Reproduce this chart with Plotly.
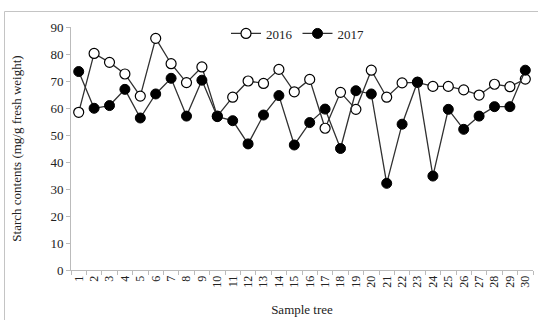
import plotly.graph_objects as go

trees = [str(i) for i in range(1, 31)]
starch_2016 = [58.4, 80.2, 76.9, 72.6, 64.4, 85.8, 76.4, 69.4, 75.2, 57.0,
               64.0, 70.0, 69.1, 74.3, 66.0, 70.6, 52.5, 65.8, 59.5, 74.0,
               64.0, 69.3, 69.5, 68.0, 68.0, 66.7, 64.8, 68.8, 67.9, 70.7]
starch_2017 = [73.5, 59.9, 60.9, 66.9, 56.3, 65.2, 71.0, 57.0, 70.3, 56.8,
               55.3, 46.7, 57.4, 64.6, 46.3, 54.6, 59.6, 45.0, 66.4, 65.2,
               32.1, 54.0, 69.6, 34.8, 59.5, 52.1, 57.0, 60.5, 60.5, 74.0]

FONT = "Liberation Serif"
fig = go.Figure()
fig.add_trace(go.Scatter(
    x=trees, y=starch_2016, name="2016", mode="lines+markers",
    line=dict(color="#303030", width=1.3),
    marker=dict(size=10, color="white", line=dict(color="black", width=1.2)),
))
fig.add_trace(go.Scatter(
    x=trees, y=starch_2017, name="2017", mode="lines+markers",
    line=dict(color="#303030", width=1.3),
    marker=dict(size=10, color="black", line=dict(color="black", width=1)),
))

L, R, T, B = 71, 5, 27, 50
W, H = 538, 320
pw = W - L - R
ph = H - T - B

fig.update_layout(
    width=W, height=H, autosize=False,
    margin=dict(l=L, r=R, t=T, b=B, autoexpand=False),
    paper_bgcolor="white", plot_bgcolor="white",
    font=dict(family=FONT, size=12, color="#222"),
    showlegend=True,
    legend=dict(orientation="h", x=(226 - L) / pw, y=1.035, xanchor="left", yanchor="top",
                bgcolor="rgba(0,0,0,0)", font=dict(family=FONT, size=13, color="#222"),
                itemwidth=30, tracegroupgap=0),
    xaxis=dict(type="category", range=[-0.5, len(trees) - 0.5], tickson="boundaries",
               ticks="outside", ticklen=4,
               tickmode="array", tickvals=trees, ticktext=trees,
               tickcolor="#bbb", showline=True, linecolor="#bbb", linewidth=1,
               showgrid=False, tickangle=-90, tickfont=dict(size=12), automargin=False,
               title=dict(text="Sample tree", font=dict(size=13), standoff=18)),
    yaxis=dict(range=[0, 90], dtick=10, ticks="outside", ticklen=4, tickcolor="#bbb",
               showline=True, linecolor="#bbb", linewidth=1, showgrid=False,
               zeroline=False, tickfont=dict(size=13), automargin=False,
               title=dict(text="Starch contents (mg/g fresh weight)", font=dict(size=13), standoff=25)),
    shapes=[dict(type="rect", xref="paper", yref="paper",
                 x0=(4.5 - L) / pw, x1=(545 - L) / pw,
                 y0=-(330 - (H - B)) / ph, y1=1 + (T - 11.5) / ph,
                 line=dict(color="#c4c4c4", width=1), fillcolor="rgba(0,0,0,0)", layer="above")],
)

post = """
document.documentElement.style.margin='0';
document.body.style.margin='0';
document.body.style.overflow='hidden';
var gd = document.getElementById('{plot_id}');
Plotly.relayout(gd, {width: 538, height: 320});
"""
fig.write_html("out.html", post_script=post,
               config={"responsive": False, "displayModeBar": False})
